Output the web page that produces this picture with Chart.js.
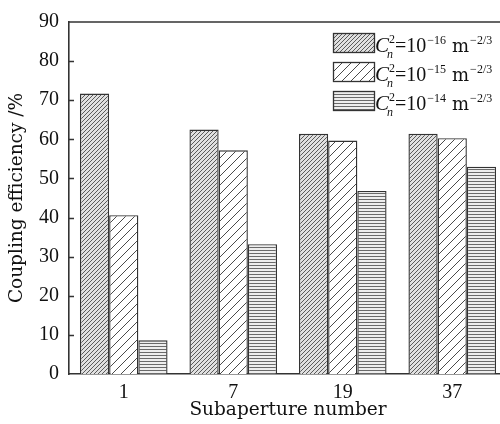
<!DOCTYPE html>
<html><head><meta charset="utf-8">
<script src="https://cdn.jsdelivr.net/npm/chart.js@4"></script>
<style>html,body{margin:0;padding:0;background:#fff;overflow:hidden;width:500px;height:424px}</style>
</head><body>
<canvas id="c" width="510" height="424" style="display:block;width:510px;height:424px"></canvas>
<script>
const categories = ['1', '7', '19', '37'];
const series1 = [71.7, 62.5, 61.4, 61.4];
const series2 = [40.6, 57.2, 59.7, 60.3];
const series3 = [8.6, 33.2, 46.8, 53.0];
const legendExp = ['\u221216', '\u221215', '\u221214'];
const yTicks = [0, 10, 20, 30, 40, 50, 60, 70, 80, 90];

const WFONT = '"DejaVu Serif", serif';
const NFONT = '"Liberation Serif", serif';
const INK = '#333';
const TXT = '#111';

function diagPattern(s, bg, fg, lw) {
  const c = document.createElement('canvas'); c.width = s; c.height = s;
  const x = c.getContext('2d');
  x.fillStyle = bg; x.fillRect(0, 0, s, s);
  x.strokeStyle = fg; x.lineWidth = lw;
  x.beginPath();
  x.moveTo(-1, s + 1); x.lineTo(s + 1, -1);
  x.moveTo(-1, 1); x.lineTo(1, -1);
  x.moveTo(s - 1, s + 1); x.lineTo(s + 1, s - 1);
  x.stroke();
  return document.getElementById('c').getContext('2d').createPattern(c, 'repeat');
}
function horizPattern(s, bg, fg, lw) {
  const c = document.createElement('canvas'); c.width = s; c.height = s;
  const x = c.getContext('2d');
  x.fillStyle = bg; x.fillRect(0, 0, s, s);
  x.strokeStyle = fg; x.lineWidth = lw;
  x.beginPath(); x.moveTo(0, s / 2); x.lineTo(s, s / 2); x.stroke();
  return document.getElementById('c').getContext('2d').createPattern(c, 'repeat');
}
const pats = [
  diagPattern(4, '#e0e0e0', '#5a5a5a', 1),
  diagPattern(9, '#ffffff', '#4a4a4a', 1),
  horizPattern(3, '#eeeeee', '#6a6a6a', 1)
];

const framePlugin = {
  id: 'frame',
  afterDraw(chart) {
    const ctx = chart.ctx, a = chart.chartArea, y = chart.scales.y;
    ctx.save();
    ctx.strokeStyle = INK; ctx.lineWidth = 1.5;
    ctx.beginPath();
    ctx.moveTo(a.left, a.top); ctx.lineTo(a.right, a.top);
    yTicks.forEach(v => {
      if (v === 0 || v === 90) return;
      const py = Math.round(y.getPixelForValue(v)) + 0.5;
      ctx.moveTo(a.left, py); ctx.lineTo(a.left + 5, py);
    });
    ctx.stroke();
    // legend
    const bx = 333, bw = 41, bh = 19, rows = [33, 62, 91];
    chart.data.datasets.forEach((ds, i) => {
      const top = rows[i];
      ctx.fillStyle = pats[i];
      ctx.fillRect(bx, top, bw, bh);
      ctx.strokeStyle = INK; ctx.lineWidth = 1.3;
      ctx.strokeRect(bx + 0.5, top + 0.5, bw, bh);
      const base = top + bh;
      let x = bx + bw + 1;
      ctx.fillStyle = TXT;
      ctx.textBaseline = 'alphabetic'; ctx.textAlign = 'left';
      ctx.font = 'italic 21px ' + NFONT;
      ctx.fillText('C', x, base); x += ctx.measureText('C').width;
      ctx.font = '12px ' + NFONT;
      ctx.fillText('2', x, base - 9);
      ctx.font = 'italic 12px ' + NFONT;
      ctx.fillText('n', x - 2, base + 6);
      x += 6;
      ctx.font = '20px ' + NFONT;
      ctx.fillText('=10', x, base); x += ctx.measureText('=10').width;
      ctx.font = '12px ' + NFONT;
      ctx.fillText(legendExp[i], x + 1, base - 8); x += ctx.measureText(legendExp[i]).width + 7;
      ctx.font = '18px ' + WFONT;
      ctx.fillText('m', x, base); x += ctx.measureText('m').width;
      ctx.font = '12px ' + NFONT;
      ctx.fillText('\u22122/3', x + 1, base - 8);
    });
    ctx.restore();
  }
};

new Chart(document.getElementById('c'), {
  type: 'bar',
  data: {
    labels: categories,
    datasets: [
      { label: 's1', data: series1, backgroundColor: pats[0], borderColor: INK, borderWidth: 1.4 },
      { label: 's2', data: series2, backgroundColor: pats[1], borderColor: INK, borderWidth: 1.4 },
      { label: 's3', data: series3, backgroundColor: pats[2], borderColor: INK, borderWidth: 1.4 }
    ]
  },
  options: {
    responsive: false, animation: false,
    layout: { padding: { top: 20, right: 3, left: 0, bottom: 0 } },
    plugins: { legend: { display: false }, tooltip: { enabled: false } },
    datasets: { bar: { categoryPercentage: 0.8, barPercentage: 1.0 } },
    scales: {
      x: {
        grid: { display: false, drawTicks: false },
        border: { display: true, color: INK, width: 1.6 },
        ticks: { color: TXT, font: { family: NFONT, size: 20 }, padding: 7 },
        title: { display: true, text: 'Subaperture number', color: TXT, font: { family: WFONT, size: 18.5 }, padding: { top: 0, bottom: 3 } },
        afterFit(s) { s.height = 50; }
      },
      y: {
        min: 0, max: 90,
        grid: { display: false, drawTicks: false },
        border: { display: true, color: INK, width: 1.6 },
        ticks: { stepSize: 10, color: TXT, font: { family: NFONT, size: 20 }, padding: 10 },
        title: { display: true, text: 'Coupling efficiency /%', color: TXT, font: { family: WFONT, size: 18.5 }, padding: { top: 6, bottom: 0 } },
        afterFit(s) { s.width = 69; }
      }
    }
  },
  plugins: [framePlugin]
});
</script>
</body></html>
